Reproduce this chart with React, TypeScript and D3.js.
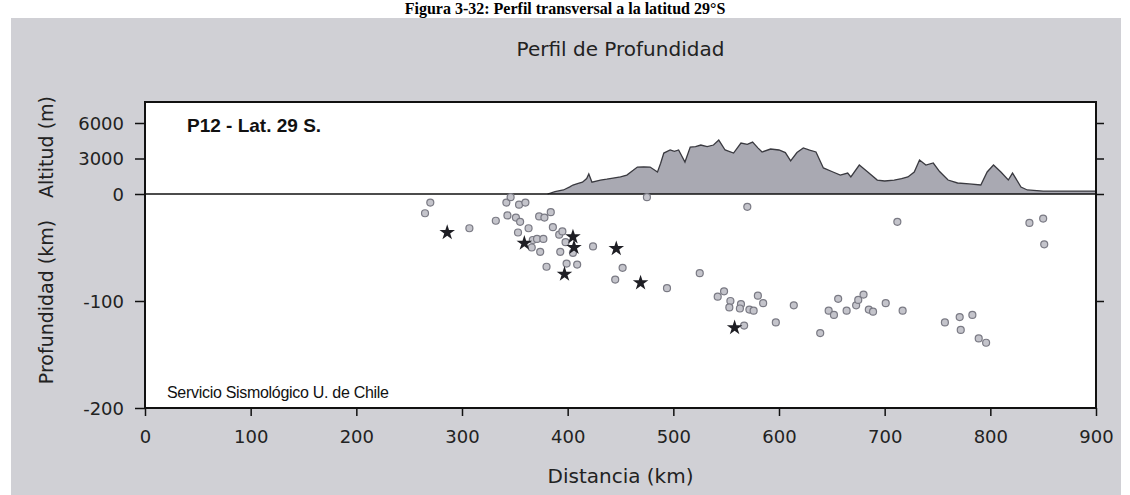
import * as d3 from "d3"
import { useEffect, useRef } from "react"

// Topography profile (distance km, altitude m)
const topoKm = [381, 388, 396, 402, 405, 410, 414, 418, 420, 423, 431, 437, 443, 450, 456, 462, 466, 472, 478, 485, 488, 491, 497, 501, 505, 511, 516, 521, 526, 532, 538, 543, 549, 557, 564, 570, 575, 580, 584, 592, 600, 606, 611, 617, 623, 629, 635, 642, 650, 658, 665, 668, 676, 684, 693, 700, 709, 716, 722, 728, 733, 739, 746, 752, 760, 769, 780, 791, 797, 803, 810, 817, 821, 829, 835, 850, 870, 900]
const topoAlt = [0, 200, 340, 600, 760, 900, 1000, 1300, 1690, 1000, 1180, 1250, 1350, 1450, 1600, 2000, 2280, 2300, 2280, 1860, 2600, 3460, 3720, 3600, 3720, 2700, 3970, 4000, 4140, 4000, 4140, 4560, 3720, 3460, 4310, 4200, 4390, 3900, 3550, 3800, 3720, 3500, 2800, 3500, 3890, 3700, 3550, 2200, 1900, 1600, 1770, 1440, 2450, 1860, 1180, 1100, 1180, 1300, 1440, 1860, 2870, 2450, 2620, 1900, 1180, 930, 850, 760, 1860, 2450, 1860, 1180, 1770, 590, 340, 250, 250, 250]

// Seismic events (distance km, depth km)
const quakeKm = [270, 265, 307, 332, 342, 346, 354, 360, 343, 351, 355, 363, 353, 367, 371, 377, 366, 374, 373, 378, 384, 386, 392, 395, 398, 393, 405, 424, 380, 399, 409, 452, 445, 494, 525, 475, 570, 542, 548, 554, 564, 553, 563, 572, 576, 580, 585, 567, 597, 614, 639, 647, 652, 656, 664, 673, 675, 680, 685, 689, 701, 717, 757, 771, 783, 772, 789, 796, 712, 837, 850, 851]
const quakeDepth = [-8, -18, -32, -25, -8, -3, -10, -8, -20, -22, -26, -32, -36, -43, -42, -42, -50, -54, -21, -22, -17, -31, -38, -35, -45, -54, -55, -49, -68, -65, -66, -69, -80, -88, -74, -3, -12, -96, -91, -100, -103, -106, -107, -108, -109, -95, -102, -123, -120, -104, -130, -109, -113, -98, -109, -104, -99, -94, -108, -110, -102, -109, -120, -115, -113, -127, -135, -139, -26, -27, -23, -47]

// Larger events (stars)
const starKm = [286, 359, 405, 406, 446, 397, 469, 558]
const starDepth = [-36, -46, -40, -50, -51, -75, -83, -125]

const xTicks = [0, 100, 200, 300, 400, 500, 600, 700, 800, 900]
const depthTicks = [-200, -100, 0]
const altTicks = [3000, 6000]

const W = 1130
const H = 495
const FONT = "'DejaVu Sans', sans-serif"

const App = () => {
  const svgRef = useRef<SVGSVGElement | null>(null)

  useEffect(() => {
    if (!svgRef.current) return
    const svg = d3.select(svgRef.current)
    svg.selectAll("*").remove()

    const left = 145
    const right = 1096
    const top = 102
    const bottom = 408

    const x = d3.scaleLinear().domain([0, 900]).range([left, right])
    const yDepth = d3.scaleLinear().domain([-200, 0]).range([bottom, 194])
    const yAlt = d3.scaleLinear().domain([0, 6000]).range([194, 123])
    const plain = (d: d3.NumberValue) => String(d)

    svg.append("rect").attr("width", W).attr("height", H).attr("fill", "#fff")

    // Gray panel
    svg
      .append("rect")
      .attr("x", 11)
      .attr("y", 18)
      .attr("width", 1110)
      .attr("height", H - 18)
      .attr("fill", "#d0d0d5")

    // Caption at the top of the page
    svg
      .append("text")
      .attr("x", 565)
      .attr("y", 14)
      .attr("text-anchor", "middle")
      .style("font-family", "'Liberation Serif', serif")
      .style("font-weight", "bold")
      .style("font-size", "16px")
      .text("Figura 3-32: Perfil transversal a la latitud 29°S")

    // Plot area
    svg
      .append("rect")
      .attr("x", left)
      .attr("y", top)
      .attr("width", right - left)
      .attr("height", bottom - top)
      .attr("fill", "#fff")

    svg
      .append("text")
      .attr("x", (left + right) / 2)
      .attr("y", 56)
      .attr("text-anchor", "middle")
      .style("font-family", FONT)
      .style("font-size", "20px")
      .attr("fill", "#222")
      .text("Perfil de Profundidad")

    // Topography
    const topo = topoKm.map((k, i) => ({ k, a: topoAlt[i] }))
    svg
      .append("path")
      .datum(topo)
      .attr("fill", "#a9a9b2")
      .attr(
        "d",
        d3
          .area<{ k: number; a: number }>()
          .x(d => x(d.k))
          .y0(yAlt(0))
          .y1(d => yAlt(d.a))
      )
    svg
      .append("path")
      .datum(topo)
      .attr("fill", "none")
      .attr("stroke", "#3a3a40")
      .attr("stroke-width", 1.3)
      .attr(
        "d",
        d3
          .line<{ k: number; a: number }>()
          .x(d => x(d.k))
          .y(d => yAlt(d.a))
      )

    // Sea level line
    svg
      .append("line")
      .attr("x1", left)
      .attr("x2", right)
      .attr("y1", yDepth(0))
      .attr("y2", yDepth(0))
      .attr("stroke", "#111")
      .attr("stroke-width", 1.5)

    // Events
    svg
      .append("g")
      .selectAll("circle")
      .data(quakeKm.map((k, i) => ({ k, d: quakeDepth[i] })))
      .join("circle")
      .attr("cx", d => x(d.k))
      .attr("cy", d => yDepth(d.d))
      .attr("r", 3.5)
      .attr("fill", "#c4c4cb")
      .attr("stroke", "#7a7a84")
      .attr("stroke-width", 1.2)

    const star = d3.symbol().type(d3.symbolStar).size(75)
    svg
      .append("g")
      .selectAll("path")
      .data(starKm.map((k, i) => ({ k, d: starDepth[i] })))
      .join("path")
      .attr("transform", d => `translate(${x(d.k)},${yDepth(d.d)})`)
      .attr("d", star)
      .attr("fill", "#1e1e24")

    // Frame
    svg
      .append("rect")
      .attr("x", left)
      .attr("y", top)
      .attr("width", right - left)
      .attr("height", bottom - top)
      .attr("fill", "none")
      .attr("stroke", "#111")
      .attr("stroke-width", 2)

    const styleAxis = (g: d3.Selection<SVGGElement, unknown, null, undefined>) => {
      g.select(".domain").remove()
      g.selectAll("line").attr("stroke", "#111").attr("stroke-width", 1.5)
      g.selectAll("text")
        .style("font-family", FONT)
        .style("font-size", "18px")
        .attr("fill", "#222")
    }

    // Left axis: depth and altitude
    const gDepth = svg
      .append("g")
      .attr("transform", `translate(${left},0)`)
      .call(d3.axisLeft(yDepth).tickValues(depthTicks).tickSize(10).tickPadding(11).tickFormat(plain))
    styleAxis(gDepth)
    gDepth.selectAll("text").attr("dy", "0.35em")

    const gAlt = svg
      .append("g")
      .attr("transform", `translate(${left},0)`)
      .call(d3.axisLeft(yAlt).tickValues(altTicks).tickSize(10).tickPadding(11).tickFormat(plain))
    styleAxis(gAlt)
    gAlt.selectAll("text").attr("dy", "0.35em")

    // Right axis ticks
    const gR1 = svg
      .append("g")
      .attr("transform", `translate(${right},0)`)
      .call(d3.axisRight(yDepth).tickValues([-100, 0]).tickSize(8).tickFormat(() => ""))
    styleAxis(gR1)
    const gR2 = svg
      .append("g")
      .attr("transform", `translate(${right},0)`)
      .call(d3.axisRight(yAlt).tickValues(altTicks).tickSize(8).tickFormat(() => ""))
    styleAxis(gR2)

    // Bottom axis
    const gX = svg
      .append("g")
      .attr("transform", `translate(0,${bottom})`)
      .call(d3.axisBottom(x).tickValues(xTicks).tickSize(8).tickFormat(plain))
    styleAxis(gX)
    gX.selectAll("text").attr("y", 35).attr("dy", 0)

    // Axis titles
    svg
      .append("text")
      .attr("x", (left + right) / 2)
      .attr("y", 483)
      .attr("text-anchor", "middle")
      .style("font-family", FONT)
      .style("font-size", "20px")
      .attr("fill", "#222")
      .text("Distancia (km)")

    svg
      .append("text")
      .attr("transform", "translate(53,302) rotate(-90)")
      .attr("text-anchor", "middle")
      .style("font-family", FONT)
      .style("font-size", "19px")
      .attr("fill", "#222")
      .text("Profundidad (km)")

    svg
      .append("text")
      .attr("transform", "translate(53,147) rotate(-90)")
      .attr("text-anchor", "middle")
      .style("font-family", FONT)
      .style("font-size", "19px")
      .attr("fill", "#222")
      .text("Altitud (m)")

    // Annotations
    svg
      .append("text")
      .attr("x", 187)
      .attr("y", 132)
      .style("font-family", "'Liberation Sans', Arial, sans-serif")
      .style("font-weight", "bold")
      .style("font-size", "19px")
      .attr("fill", "#111")
      .text("P12 - Lat. 29 S.")

    svg
      .append("text")
      .attr("x", 167)
      .attr("y", 398)
      .style("font-family", "'Liberation Sans', Arial, sans-serif")
      .style("font-size", "16px")
      .style("letter-spacing", "-0.3px")
      .attr("fill", "#111")
      .text("Servicio Sismológico U. de Chile")
  }, [])

  return (
    <svg
      ref={svgRef}
      width={W}
      height={H}
      style={{ position: "absolute", left: 0, top: 0 }}
    />
  )
}

export default App
